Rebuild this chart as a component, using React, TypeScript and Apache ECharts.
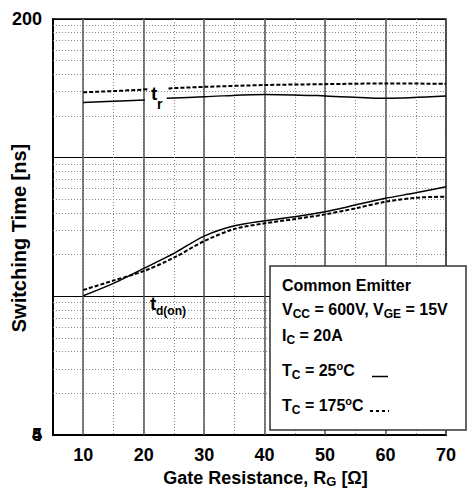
import React, { useEffect, useRef } from 'react';
import * as echarts from 'echarts';

const FONT = '"Liberation Sans", Arial, Helvetica, sans-serif';

// Gate resistance (x) sample points for t_d(on)
const resistance = [10, 15, 20, 25, 30, 35, 40, 45, 50, 55, 60, 65, 70];
// t_d(on), read in grid units of the log axis
const tdon25 = [10.1, 12.4, 15.9, 20.4, 27.2, 32.3, 35.1, 37.5, 40.7, 45.5, 50.9, 55.8, 61.7];
const tdon175 = [11.1, 13.0, 15.2, 19.0, 25.0, 30.6, 33.6, 36.1, 39.0, 43.1, 48.1, 51.4, 52.3];

// t_r curves (broken where the "tr" label sits)
const trX25 = [10, 15, 20.2, 22, 23.8, 30, 40, 50, 60, 70];
const tr25: (number | string)[] = [250, 255, 260, '-', 268, 275, 286, 279, 268, 278];
const trX175 = [10, 15, 20.7, 22.5, 24.1, 30, 40, 50, 60, 70];
const tr175: (number | string)[] = [296, 302, 311, '-', 316, 324, 334, 339, 343, 341];

// axis / grid values
const xMajor = [10, 20, 30, 40, 50, 60, 70];
const yMinor = [2, 3, 4, 5, 6, 7, 8, 9, 20, 30, 40, 50, 60, 70, 80, 90, 200, 300, 400, 500, 600, 700, 800, 900];
const yTickLabels: Record<number, string> = { 1: '5', 1000: '200' };
const yOverlayLabels: Record<number, string> = { 1: '4' };
const yAxisTitle = 'Switching Time [ns]';

const pairs = (xs: number[], ys: (number | string)[]) => xs.map((x, i) => [x, ys[i]]);

const labelStyle = { fontSize: 18, fontWeight: 'bold', color: '#000', fontFamily: FONT };

export default function App() {
  const ref = useRef<HTMLDivElement>(null);
  useEffect(() => {
    if (!ref.current) return;
    const chart = echarts.init(ref.current, null, { renderer: 'svg' });
    const legendMain = { fontSize: 16, fontWeight: 'bold', color: '#000', fontFamily: FONT, lineHeight: 20, verticalAlign: 'middle' };
    const legendSub = { fontSize: 12, fontWeight: 'bold', color: '#000', fontFamily: FONT, lineHeight: 12, verticalAlign: 'bottom' };
    const legendSup = { fontSize: 11, fontWeight: 'bold', color: '#000', fontFamily: FONT, lineHeight: 6, verticalAlign: 'top' };
    const legendRich = { m: legendMain, s: legendSub, p: legendSup };
    const legendText = (y: number, text: string) => ({
      type: 'text', left: 282, top: y - 10, z: 101, silent: true,
      style: { text, rich: legendRich, fill: '#000', font: `bold 16px ${FONT}` },
    });
    const option: any = {
      animation: false,
      grid: { left: 53, top: 19, right: 29, bottom: 54, show: true, borderColor: '#000', borderWidth: 1.5, backgroundColor: 'transparent', containLabel: false, outerBoundsMode: 'none' },
      xAxis: {
        type: 'value', min: 5, max: 70, interval: 5,
        axisLine: { show: true, onZero: false, lineStyle: { color: '#000', width: 2 } },
        axisTick: { show: false },
        axisLabel: { ...labelStyle, margin: 11, formatter: (v: number) => (v % 10 === 0 ? String(v) : '') },
        splitLine: { show: true, lineStyle: { color: '#888', width: 1, type: [1, 2] } },
        name: '{m|Gate Resistance, R}{s|G}{m| [Ω]}',
        nameLocation: 'middle', nameGap: 31,
        nameTextStyle: {
          padding: [0, 0, 0, 32],
          rich: {
            m: { fontSize: 18, fontWeight: 'bold', color: '#000', fontFamily: FONT, lineHeight: 20, verticalAlign: 'middle' },
            s: { fontSize: 13, fontWeight: 'bold', color: '#000', fontFamily: FONT, lineHeight: 12, verticalAlign: 'bottom' },
          },
        },
      },
      yAxis: [
        {
          type: 'log', logBase: 10, min: 1, max: 1000,
          axisLine: { show: true, onZero: false, lineStyle: { color: '#000', width: 2 } },
          axisTick: { show: false },
          axisLabel: { ...labelStyle, margin: 11, formatter: (v: number) => yTickLabels[Math.round(v)] ?? '' },
          splitLine: { show: true, lineStyle: { color: '#000', width: 1 } },
        },
        {
          type: 'log', logBase: 10, min: 1, max: 1000, position: 'left',
          axisLine: { show: false }, axisTick: { show: false }, splitLine: { show: false },
          axisLabel: { ...labelStyle, margin: 11, padding: [0, 0, 3, 0], formatter: (v: number) => yOverlayLabels[Math.round(v)] ?? '' },
        },
      ],
      series: [
        {
          type: 'line', data: [], z: 1, silent: true,
          markLine: {
            silent: true, z: 1, symbol: ['none', 'none'], label: { show: false }, animation: false,
            emphasis: { disabled: true },
            data: [
              ...yMinor.map((v) => ({ yAxis: v, lineStyle: { color: '#888', width: 1, type: [1, 2] } })),
              ...xMajor.map((v) => ({ xAxis: v, lineStyle: { color: '#555', width: 1.5, type: 'solid' } })),
            ],
          },
        },
        { type: 'line', name: 'td(on) 25C', data: pairs(resistance, tdon25), smooth: 0.3, showSymbol: false, z: 3, lineStyle: { color: '#000', width: 1.5 } },
        { type: 'line', name: 'td(on) 175C', data: pairs(resistance, tdon175), smooth: 0.3, showSymbol: false, z: 3, lineStyle: { color: '#000', width: 2, type: [4, 2] } },
        { type: 'line', name: 'tr 25C', data: pairs(trX25, tr25), smooth: 0.3, showSymbol: false, z: 3, connectNulls: false, lineStyle: { color: '#000', width: 1.5 } },
        { type: 'line', name: 'tr 175C', data: pairs(trX175, tr175), smooth: 0.3, showSymbol: false, z: 3, connectNulls: false, lineStyle: { color: '#000', width: 2, type: [4, 2] } },
      ],
      graphic: [
        { type: 'text', x: 19, y: 238, rotation: Math.PI / 2, z: 101, silent: true, style: { text: yAxisTitle, font: `bold 20px ${FONT}`, fill: '#000', align: 'center', verticalAlign: 'middle' } },
        { type: 'text', left: 151, top: 84, z: 101, silent: true, style: { text: 't', font: `bold 19px ${FONT}`, fill: '#000' } },
        { type: 'text', left: 157, top: 97, z: 101, silent: true, style: { text: 'r', font: `bold 14px ${FONT}`, fill: '#000' } },
        { type: 'text', left: 150, top: 294, z: 101, silent: true, style: { text: 't', font: `bold 19px ${FONT}`, fill: '#000' } },
        { type: 'text', left: 156, top: 305, z: 101, silent: true, style: { text: 'd(on)', font: `bold 12px ${FONT}`, fill: '#000' } },
        { type: 'rect', z: 100, silent: true, shape: { x: 270, y: 266, width: 196, height: 164 }, style: { fill: '#fff', stroke: '#333', lineWidth: 1.5 } },
        legendText(287.5, '{m|Common Emitter}'),
        legendText(311.7, '{m|V}{s|CC}{m| = 600V, V}{s|GE}{m| = 15V}'),
        legendText(337.5, '{m|I}{s|C}{m| = 20A}'),
        legendText(370.7, '{m|T}{s|C}{m| = 25}{p|o}{m|C}'),
        legendText(405.8, '{m|T}{s|C}{m| = 175}{p|o}{m|C}'),
        { type: 'line', z: 101, silent: true, shape: { x1: 372, y1: 376.5, x2: 388, y2: 376.5 }, style: { stroke: '#000', lineWidth: 1.5 } },
        { type: 'line', z: 101, silent: true, shape: { x1: 370, y1: 411, x2: 389, y2: 411 }, style: { stroke: '#000', lineWidth: 2, lineDash: [3, 3] } },
      ],
    };
    chart.setOption(option);
    return () => chart.dispose();
  }, []);
  return <div ref={ref} style={{ position: 'fixed', left: 0, top: 0, width: 475, height: 489, background: '#fff' }} />;
}
